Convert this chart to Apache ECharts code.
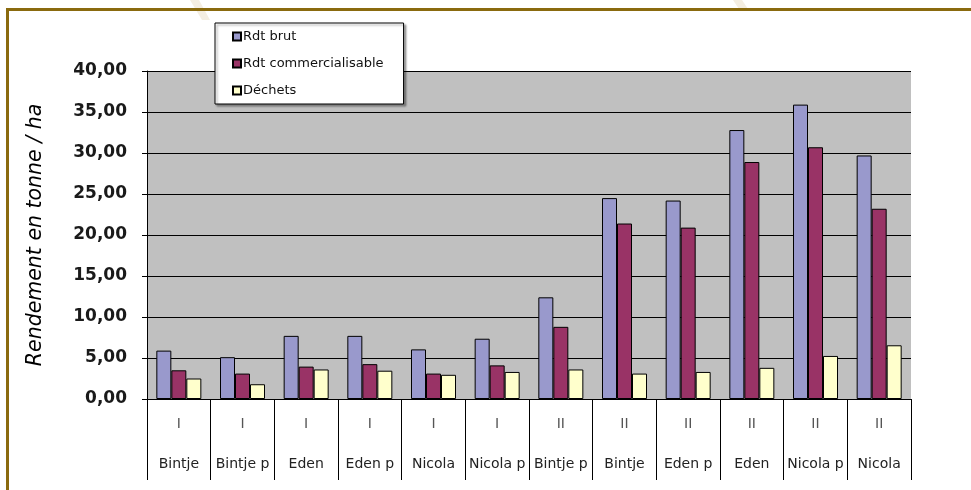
<!DOCTYPE html>
<html>
<head>
<meta charset="utf-8">
<script src="https://cdn.jsdelivr.net/npm/echarts@6/dist/echarts.min.js"></script>
<style>
  html, body { margin: 0; padding: 0; background: #fff; }
  #chart { width: 971px; height: 490px; }
</style>
</head>
<body>
<div id="chart"></div>
<script>
// Variétés et séries (I / II)
const varietes = ['Bintje', 'Bintje p', 'Eden', 'Eden p', 'Nicola', 'Nicola p',
                  'Bintje p', 'Bintje', 'Eden p', 'Eden', 'Nicola p', 'Nicola'];
const series_ = ['I', 'I', 'I', 'I', 'I', 'I', 'II', 'II', 'II', 'II', 'II', 'II'];

// Rendements en t/ha
const rdtBrut = [5.9, 5.1, 7.7, 7.7, 6.05, 7.35, 12.4, 24.5, 24.2, 32.8, 35.9, 29.7];
const rdtCommercialisable = [3.5, 3.1, 3.95, 4.25, 3.1, 4.1, 8.8, 21.4, 20.9, 28.9, 30.7, 23.2];
const dechets = [2.5, 1.8, 3.6, 3.45, 2.95, 3.3, 3.6, 3.1, 3.3, 3.8, 5.25, 6.55];

const yTicks = { min: 0, max: 40, interval: 5 };

const FONT = 'DejaVu Sans, Verdana, sans-serif';

const chart = echarts.init(document.getElementById('chart'), null, { renderer: 'canvas' });

const barBase = {
  type: 'bar',
  barWidth: 15,
  barGap: '0%',
  itemStyle: { borderColor: '#000', borderWidth: 1 }
};

chart.setOption({
  animation: false,
  backgroundColor: '#fff',
  textStyle: { fontFamily: FONT },
  graphic: [
    // faint decorative strokes above the frame
    { type: 'polygon', z: 0, shape: { points: [[190, 0], [199, 0], [210, 20], [202, 20]] },
      style: { fill: '#F4EEE2' } },
    { type: 'polygon', z: 0, shape: { points: [[733, 0], [742, 0], [748, 9], [739, 9]] },
      style: { fill: '#F4EEE2' } },
    // outer frame
    { type: 'rect', z: 100, shape: { x: 7.5, y: 9.5, width: 1000, height: 1000 },
      style: { fill: 'none', stroke: '#8A6A0E', lineWidth: 3 } }
  ],
  grid: {
    left: 147, right: 60, top: 71, bottom: 91,
    show: true, backgroundColor: '#C0C0C0', borderWidth: 0
  },
  legend: {
    orient: 'vertical',
    left: 215, top: 23,
    padding: [7, 20, 7, 17],
    itemGap: 14,
    itemWidth: 8, itemHeight: 8,
    icon: 'rect',
    backgroundColor: '#fff',
    borderColor: '#000', borderWidth: 1,
    shadowColor: 'rgba(0,0,0,0.35)', shadowBlur: 2, shadowOffsetX: 2, shadowOffsetY: 2,
    textStyle: { fontFamily: FONT, fontSize: 13, color: '#111', padding: [0, 0, 0, -3] },
    data: ['Rdt brut', 'Rdt commercialisable', 'Déchets']
  },
  xAxis: {
    type: 'category',
    data: varietes,
    axisLine: { lineStyle: { color: '#000', width: 1 } },
    axisTick: { show: true, interval: 0, length: 81, lineStyle: { color: '#000' } },
    axisLabel: {
      interval: 0, margin: 5,
      formatter: (v, i) => `{g|${series_[i]}}\n{n|${v}}`,
      rich: {
        g: { fontFamily: FONT, fontSize: 14, color: '#555', lineHeight: 40 },
        n: { fontFamily: FONT, fontSize: 14, color: '#222', lineHeight: 40 }
      }
    },
    splitLine: { show: false }
  },
  yAxis: {
    type: 'value',
    min: yTicks.min, max: yTicks.max, interval: yTicks.interval,
    name: 'Rendement en tonne / ha',
    nameLocation: 'middle',
    nameGap: 101,
    nameRotate: 90,
    nameTextStyle: { fontFamily: FONT, fontSize: 20.5, fontStyle: 'italic', color: '#000' },
    axisLine: { show: true, lineStyle: { color: '#000' } },
    axisTick: { show: true, length: 5, lineStyle: { color: '#000' } },
    axisLabel: {
      margin: 20, fontFamily: FONT, fontSize: 17, fontWeight: 'bold', color: '#1a1a1a',
      formatter: v => v.toFixed(2).replace('.', ',')
    },
    splitLine: { show: true, lineStyle: { color: '#000', width: 1 } }
  },
  series: [
    Object.assign({}, barBase, { name: 'Rdt brut', data: rdtBrut, itemStyle: Object.assign({}, barBase.itemStyle, { color: '#9999CC' }) }),
    Object.assign({}, barBase, { name: 'Rdt commercialisable', data: rdtCommercialisable, itemStyle: Object.assign({}, barBase.itemStyle, { color: '#993366' }) }),
    Object.assign({}, barBase, { name: 'Déchets', data: dechets, itemStyle: Object.assign({}, barBase.itemStyle, { color: '#FFFFCC' }) })
  ]
});
</script>
</body>
</html>
